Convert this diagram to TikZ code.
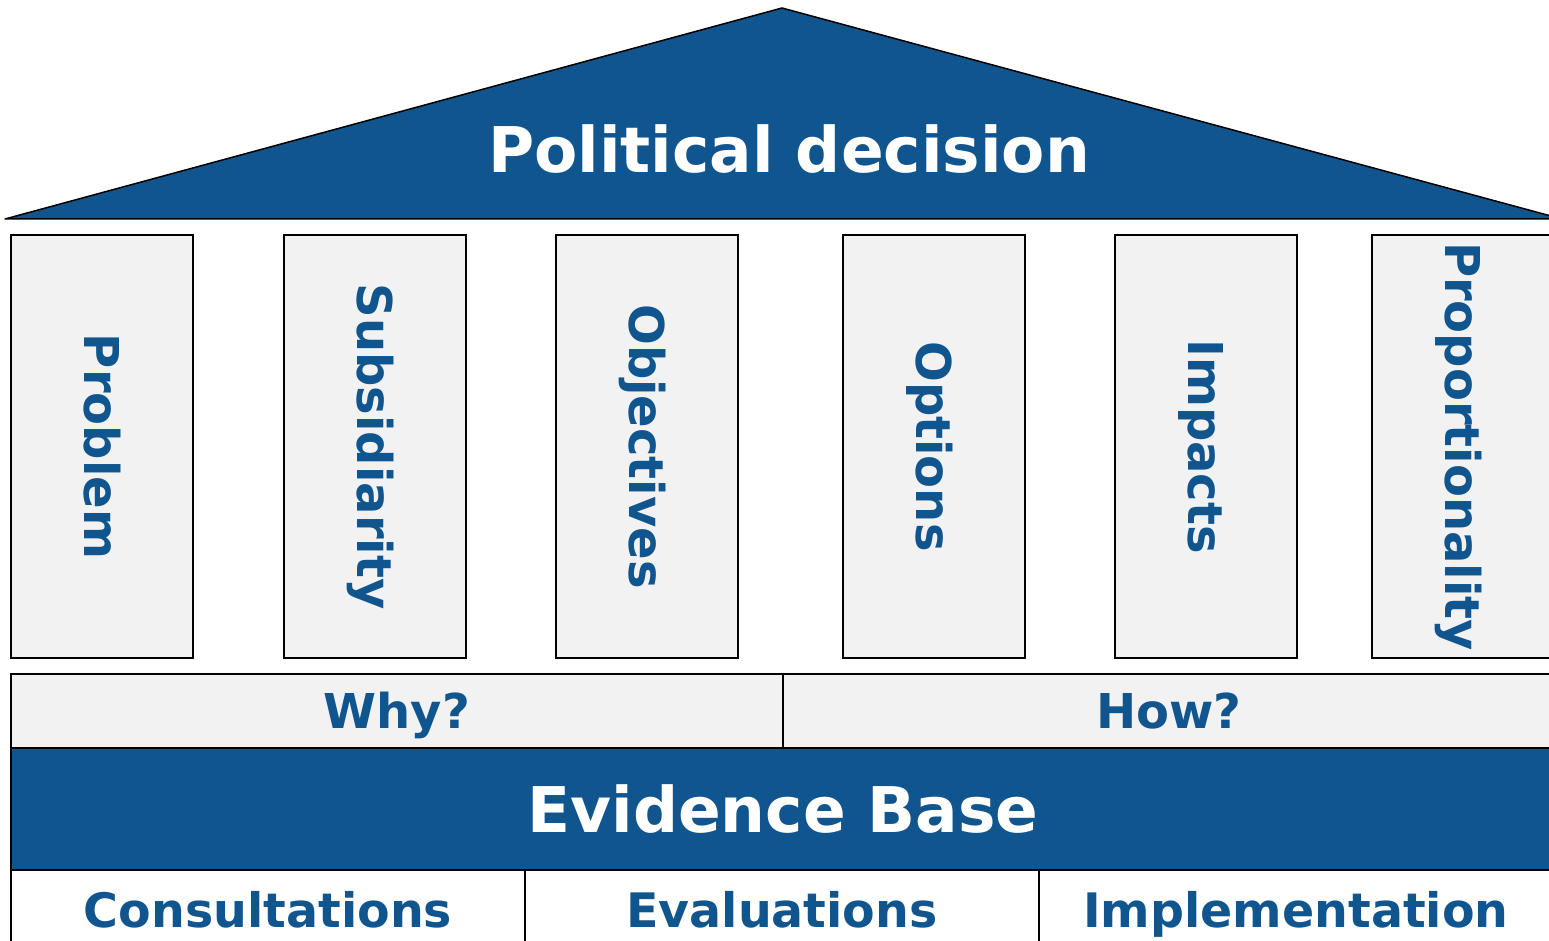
\documentclass[tikz,border=0pt]{standalone}
\usepackage{fontspec}
\setmainfont{DejaVu Sans}
\definecolor{eublue}{HTML}{11558F}
\definecolor{pillargray}{HTML}{F2F2F2}
\begin{document}
\begin{tikzpicture}
		[x=1pt, y=-1pt,
		every node/.style={inner sep=0pt, outer sep=0pt, text depth=0pt},
		roof/.style={fill=eublue, draw=black, line width=1.5pt, line join=round},
		pillar/.style={draw=black, line width=1.5pt, fill=pillargray, text=eublue,
			rotate=-90, minimum width=423, minimum height=182, text height=35pt,
			font=\bfseries\fontsize{48}{56}\selectfont},
		band/.style={draw=black, line width=1.5pt, fill=pillargray, text=eublue,
			minimum height=74, anchor=north west, text height=35pt,
			font=\bfseries\fontsize{48}{56}\selectfont},
		base/.style={draw=black, line width=1.5pt, fill=eublue, text=white,
			minimum height=122, anchor=north west, text height=46pt,
			font=\bfseries\fontsize{63}{72}\selectfont},
		source/.style={draw=black, line width=1.5pt, fill=white, text=eublue,
			minimum height=80, minimum width=514, anchor=north west, text height=34.7pt,
			font=\bfseries\fontsize{47.5}{56}\selectfont}
	]
		\useasboundingbox (0,0) rectangle (1549,941);
		\begin{scope}
			\clip (0,0) rectangle (1549,941);
			% roof
			\coordinate (eaveL) at (5,219);
			\coordinate (ridge) at (782,8);
			\coordinate (eaveR) at (1562,219);
			\filldraw[roof] (eaveL) -- (ridge) -- (eaveR) -- cycle;
			\node[text=white, text height=46pt, font=\bfseries\fontsize{63}{72}\selectfont] (decision) at (789,150) {Political decision};
			% pillars
			\node[pillar] (problem) at (102,446.5) {Problem};
			\node[pillar] (subsidiarity) at (375,446.5) {Subsidiarity};
			\node[pillar] (objectives) at (647,446.5) {Objectives};
			\node[pillar] (options) at (934,446.5) {Options};
			\node[pillar] (impacts) at (1206,446.5) {Impacts};
			\node[pillar] (proportionality) at (1463,446.5) {Proportionality};
			% why and how
			\node[band, minimum width=772] (why) at (11,674) {Why?};
			\node[band, minimum width=772] (how) at (why.north east) {How?};
			% evidence
			\node[base, minimum width=1544] (evidence) at (why.south west) {Evidence Base};
			\node[source] (consult) at (evidence.south west) {Consultations};
			\node[source] (evaluate) at (consult.north east) {Evaluations};
			\node[source] (implement) at (evaluate.north east) {Implementation};
		\end{scope}
	\end{tikzpicture}
\end{document}
